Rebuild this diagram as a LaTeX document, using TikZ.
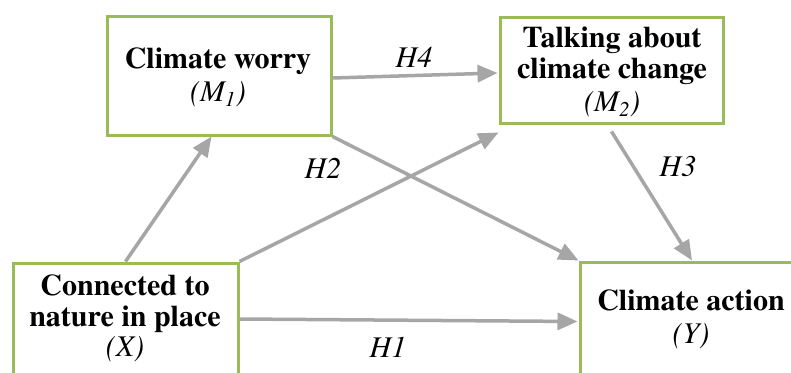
\documentclass[tikz,border=0pt]{standalone}
\usepackage{fontspec}
\setmainfont{TeX Gyre Termes}
\usetikzlibrary{arrows.meta}
\definecolor{boxgreen}{HTML}{9BBB59}
\definecolor{arrowgray}{HTML}{A6A6A6}
\tikzset{
  vbox/.style={draw=boxgreen, line width=3pt, fill=white, inner sep=0pt},
  vtext/.style={font=\rmfamily\bfseries\fontsize{30}{32}\selectfont, anchor=base, inner sep=0pt},
  vsym/.style={font=\rmfamily\itshape\fontsize{30}{32}\selectfont, anchor=base, inner sep=0pt},
  hlabel/.style={font=\rmfamily\itshape\fontsize{30}{32}\selectfont, inner sep=0pt},
  conn/.style={draw=arrowgray, line width=3.5pt, -{Triangle[length=20pt,width=17pt]}}
}
\begin{document}
\begin{tikzpicture}[x=1pt,y=-1pt]
\useasboundingbox (0,0) rectangle (791,372);
\fill[white] (0,0) rectangle (791,372);
% boxes
\node[vbox, minimum width=224pt, minimum height=119pt] (M1) at (219,75.5) {};
\node[vbox, minimum width=223pt, minimum height=106pt] (M2) at (611.5,70) {};
\node[vbox, minimum width=225pt, minimum height=112pt] (X) at (125.5,319) {};
\node[vbox, minimum width=224pt, minimum height=113pt] (Y) at (692,318.5) {};
% texts
\node[vtext] (tM1a) at (218,68) {Climate worry};
\node[vsym]  (tM1b) at (218,101) {(M\textsubscript{1})};
\node[vtext] (tM2a) at (612,47) {Talking about};
\node[vtext] (tM2b) at (612,78) {climate change};
\node[vsym]  (tM2c) at (612,111) {(M\textsubscript{2})};
\node[vtext] (tXa) at (125,295) {Connected to};
\node[vtext] (tXb) at (125,326) {nature in place};
\node[vsym]  (tXc) at (125,356) {(X)};
\node[vtext] (tYa) at (691,310) {Climate action};
\node[vsym]  (tYb) at (691,343) {(Y)};
% connectors
\draw[conn] ([xshift=114pt]X.north west) -- ([xshift=106pt]M1.south west);
\draw[conn] (X.north east) -- ([yshift=-8pt]M2.south west);
\draw[conn] (M1.south east) -- (Y.north west);
\draw[conn] ([yshift=-7pt]M2.south) -- (Y.north);
\draw[conn] ([yshift=-2.5pt]M1.east) -- ([yshift=-3pt,xshift=-1pt]M2.west);
\draw[conn] (X.east) -- ([yshift=-3pt,xshift=-1pt]Y.west);
% labels
\node[hlabel] (H4) at (414,57) {H4};
\node[hlabel] (H2) at (323,168) {H2};
\node[hlabel] (H3) at (678,166) {H3};
\node[hlabel] (H1) at (388,347) {H1};
\end{tikzpicture}
\end{document}
